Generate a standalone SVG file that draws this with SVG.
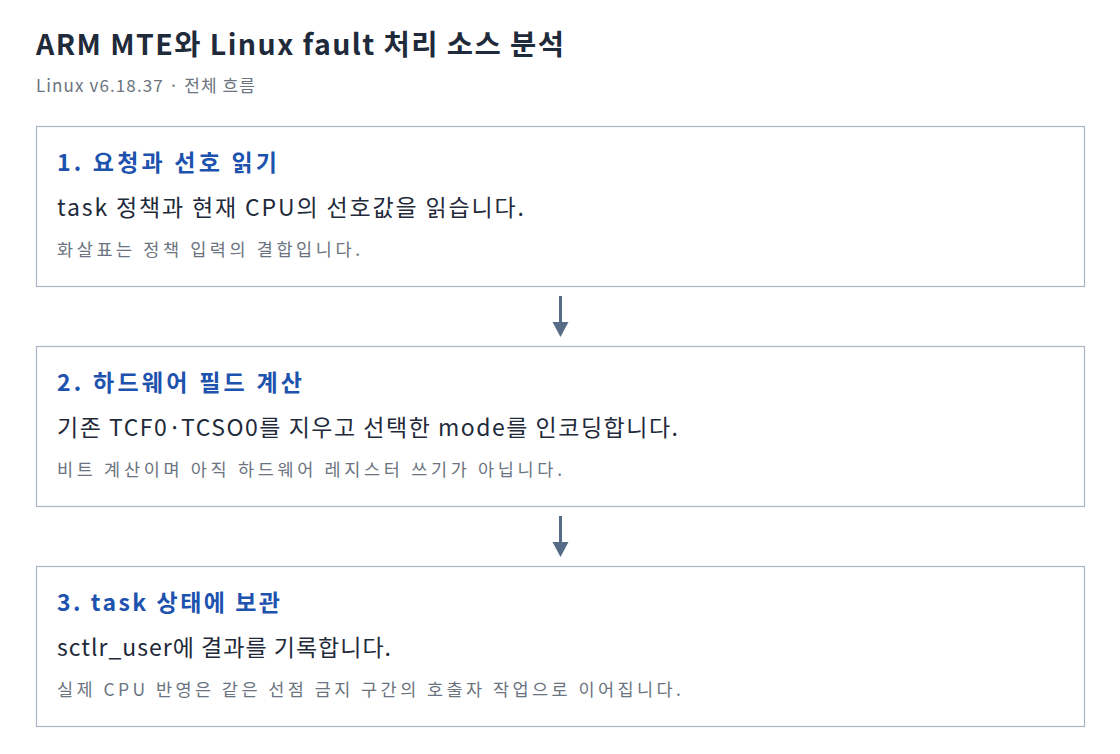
<svg xmlns="http://www.w3.org/2000/svg" width="1120" height="754" viewBox="0 0 1120 754">
<style>
text{font-family:"Noto Sans CJK KR","Noto Sans",sans-serif}
.title{font-size:28.5px;font-weight:700;fill:#1f2a3a}
.sub{font-size:17px;fill:#6b7480}
.box{fill:#ffffff;stroke:#aab6c6;stroke-width:1.2}
.h{font-size:23px;font-weight:700;fill:#1d52ae}
.b{font-size:23px;fill:#1f2a3a}
.n{font-size:17.5px;fill:#6b7480}
.conn{stroke:#566b86;stroke-width:3;fill:none}
.head{fill:#566b86}
</style>
<rect width="1120" height="754" fill="#ffffff"/>
<text class="title" x="36" y="55" textLength="528" lengthAdjust="spacing">ARM MTE와 Linux fault 처리 소스 분석</text>
<text class="sub" x="36" y="92" textLength="219" lengthAdjust="spacing">Linux v6.18.37 · 전체 흐름</text>
<g id="step1">
<rect class="box" x="36.5" y="126.5" width="1048" height="160"/>
<text class="h" x="57" y="171" textLength="220" lengthAdjust="spacing">1. 요청과 선호 읽기</text>
<text class="b" x="57" y="216" textLength="467" lengthAdjust="spacing">task 정책과 현재 CPU의 선호값을 읽습니다.</text>
<text class="n" x="57" y="256" textLength="303" lengthAdjust="spacing">화살표는 정책 입력의 결합입니다.</text>
</g>
<g id="step2">
<rect class="box" x="36.5" y="346.5" width="1048" height="160"/>
<text class="h" x="57" y="391" textLength="245" lengthAdjust="spacing">2. 하드웨어 필드 계산</text>
<text class="b" x="57" y="436" textLength="621" lengthAdjust="spacing">기존 TCF0·TCSO0를 지우고 선택한 mode를 인코딩합니다.</text>
<text class="n" x="57" y="476" textLength="505" lengthAdjust="spacing">비트 계산이며 아직 하드웨어 레지스터 쓰기가 아닙니다.</text>
</g>
<g id="step3">
<rect class="box" x="36.5" y="566.5" width="1048" height="160"/>
<text class="h" x="57" y="611" textLength="223" lengthAdjust="spacing">3. task 상태에 보관</text>
<text class="b" x="57" y="656" textLength="334" lengthAdjust="spacing">sctlr_user에 결과를 기록합니다.</text>
<text class="n" x="57" y="696" textLength="624" lengthAdjust="spacing">실제 CPU 반영은 같은 선점 금지 구간의 호출자 작업으로 이어집니다.</text>
</g>
<g id="connectors">
<line class="conn" x1="560.5" y1="296" x2="560.5" y2="324"/>
<polygon class="head" points="552.5,322 568.5,322 560.5,337"/>
<line class="conn" x1="560.5" y1="516" x2="560.5" y2="544"/>
<polygon class="head" points="552.5,542 568.5,542 560.5,557"/>
</g>
</svg>
